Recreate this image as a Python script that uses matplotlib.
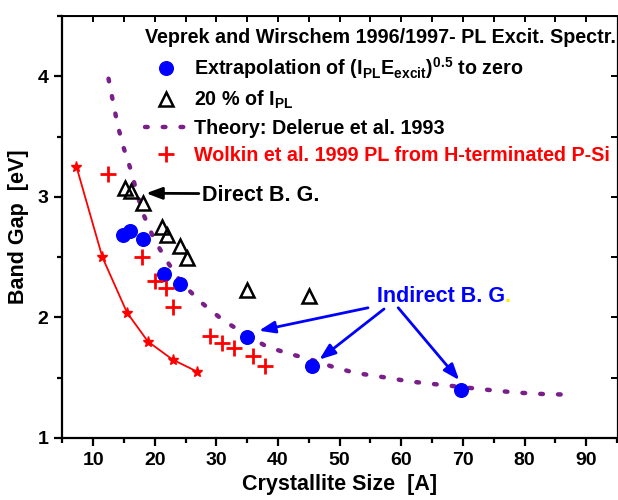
import numpy as np
import matplotlib
matplotlib.use("Agg")
import matplotlib.pyplot as plt

plt.rcParams['font.family'] = ['Liberation Sans', 'DejaVu Sans']
plt.rcParams['font.weight'] = 'bold'
plt.rcParams['axes.labelweight'] = 'bold'
plt.rcParams['mathtext.fontset'] = 'custom'
plt.rcParams['mathtext.rm'] = 'Liberation Sans:bold'
plt.rcParams['mathtext.it'] = 'Liberation Sans:bold'
plt.rcParams['mathtext.bf'] = 'Liberation Sans:bold'

# Veprek & Wirschem: extrapolation of (I_PL E_excit)^0.5 to zero
extrap_size = [14.8, 16.0, 18.1, 21.5, 24.1, 34.9, 45.5, 69.7]
extrap_gap = [2.68, 2.72, 2.65, 2.36, 2.28, 1.84, 1.60, 1.40]

# 20 % of I_PL
pct20_size = [15.2, 16.2, 18.1, 21.1, 22.0, 24.1, 25.3, 34.9, 45.1]
pct20_gap = [3.07, 3.05, 2.95, 2.75, 2.68, 2.59, 2.49, 2.23, 2.18]

# Theory: Delerue et al. 1993
theory_size = [12.5, 13.3, 14.0, 15.0, 16.2, 17.1, 18.2, 19.8, 21.8, 24.3, 27.4,
               31.0, 34.7, 38.1, 41.7, 45.1, 48.9, 52.5, 57.7, 61.2, 64.8, 68.5,
               72.1, 75.8, 79.3, 82.9, 86.8]
theory_gap = [3.98, 3.77, 3.59, 3.40, 3.21, 3.03, 2.85, 2.66, 2.48, 2.29, 2.13,
              1.98, 1.86, 1.76, 1.70, 1.655, 1.59, 1.54, 1.50, 1.47, 1.45, 1.43,
              1.41, 1.39, 1.375, 1.365, 1.36]

# Wolkin et al. 1999 PL from H-terminated P-Si
wolkin_size = [12.4, 18.0, 20.0, 21.8, 22.9, 29.0, 30.9, 32.9, 35.9, 37.9]
wolkin_gap = [3.19, 2.50, 2.30, 2.24, 2.09, 1.85, 1.79, 1.75, 1.68, 1.60]

# red star curve
star_size = [7.3, 11.5, 15.5, 18.9, 22.9, 26.9]
star_gap = [3.25, 2.50, 2.04, 1.80, 1.65, 1.55]

fig = plt.figure(figsize=(6.18, 5.0), dpi=100)
ax = fig.add_axes([0.1008, 0.124, 0.8976, 0.844])

ax.plot(star_size, star_gap, color='red', lw=1.3, marker='*', ms=8, zorder=3)
h_theory, = ax.plot(theory_size, theory_gap, color='#7a1f8a', lw=3.2,
                    dashes=(0.6, 3.4), dash_capstyle='round', zorder=2,
                    label='Theory: Delerue et al. 1993')
h_extrap, = ax.plot(extrap_size, extrap_gap, ls='none', marker='o', ms=9.8,
                    color='#0000ff', zorder=4,
                    label=r'Extrapolation of (I$_{PL}$E$_{excit}$)$^{0.5}$ to zero')
h_pct, = ax.plot(pct20_size, pct20_gap, ls='none', marker='^', ms=10,
                 mfc='none', mec='black', mew=1.8, zorder=4,
                 label=r'20 % of I$_{PL}$')
h_wolkin, = ax.plot(wolkin_size, wolkin_gap, ls='none', marker='+', ms=12,
                    mew=2, color='red', zorder=4,
                    label='Wolkin et al. 1999 PL from H-terminated P-Si')

ax.set_xlim(5, 95)
ax.set_ylim(1, 4.5)
ax.set_xticks(np.arange(10, 91, 10))
ax.set_xticks(np.arange(5, 96, 5), minor=True)
ax.set_yticks([1, 2, 3, 4])
ax.set_yticks(np.arange(1, 4.6, 0.5), minor=True)
ax.tick_params(which='major', length=6, width=1.6, labelsize=14, pad=4)
ax.tick_params(which='minor', length=3.5, width=1.6)
for lbl in ax.get_xticklabels() + ax.get_yticklabels():
    lbl.set_fontweight('bold')
for s in ['left', 'bottom']:
    ax.spines[s].set_linewidth(1.6)
ax.spines['top'].set_linewidth(1.4)
ax.spines['right'].set_linewidth(0.8)

top = ax.secondary_xaxis('top')
top.set_xticks(np.arange(10, 91, 5))
top.tick_params(direction='in', length=4, width=1.4, labeltop=False)
right = ax.secondary_yaxis('right')
right.set_yticks(np.arange(1.5, 4.6, 0.5))
right.tick_params(direction='in', length=4, width=1.4, labelright=False)

ax.set_xlabel('Crystallite Size  [A]', fontsize=15.5, labelpad=4)
ax.set_ylabel('Band Gap  [eV]', fontsize=15.5, labelpad=6)

leg = ax.legend(handles=[h_extrap, h_pct, h_theory, h_wolkin],
                loc='upper left', bbox_to_anchor=(0.149, 0.972),
                frameon=False, fontsize=14.2, borderpad=0, borderaxespad=0,
                title='Veprek and Wirschem 1996/1997- PL Excit. Spectr.',
                title_fontproperties={'size': 14.2, 'weight': 'bold'},
                alignment='left', handlelength=2.1, handletextpad=0.4,
                labelspacing=0.4)
leg.get_texts()[3].set_color('red')

arrow = dict(arrowstyle='-|>,head_length=0.8,head_width=0.3', lw=2,
             mutation_scale=12, shrinkA=0, shrinkB=0)
ax.annotate('Direct B. G.', xy=(18.6, 3.03), xytext=(27.6, 3.01),
            fontsize=15.5, va='center', ha='left', color='black',
            arrowprops=dict(arrow, color='black', relpos=(0, 0.6)))

ax.text(56.0, 2.17, 'Indirect B. G', fontsize=15.5, color='#0000ff',
        va='center', ha='left')
ax.text(76.7, 2.17, '.', fontsize=15.5, color='#ffee00', va='center', ha='left')
for start, tip in [((54.6, 2.08), (36.9, 1.89)),
                   ((57.2, 2.07), (46.7, 1.65)),
                   ((59.5, 2.08), (69.4, 1.48))]:
    ax.annotate('', xy=tip, xytext=start,
                arrowprops=dict(arrow, color='#0000ff'))

fig.savefig('out.png', dpi=100)
